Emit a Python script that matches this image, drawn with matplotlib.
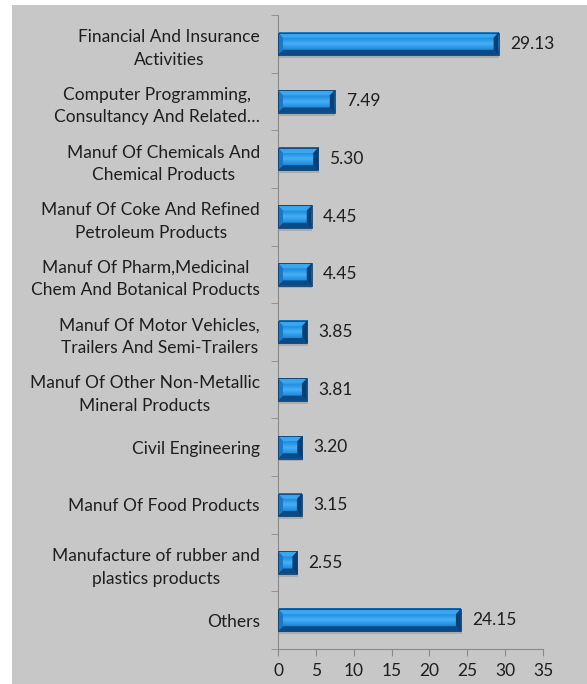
"""Horizontal bevelled bar chart of sector shares."""

import matplotlib

matplotlib.use("Agg")
import matplotlib.pyplot as plt  # noqa: E402
import numpy as np  # noqa: E402
from matplotlib.colors import LinearSegmentedColormap  # noqa: E402
from matplotlib.patches import Polygon, Rectangle  # noqa: E402

categories = [
    "Financial And Insurance\nActivities",
    "Computer Programming,\nConsultancy And Related\u2026",
    "Manuf Of Chemicals And\nChemical Products",
    "Manuf Of Coke And Refined\nPetroleum Products",
    "Manuf Of Pharm,Medicinal\nChem And Botanical Products",
    "Manuf Of Motor Vehicles,\nTrailers And Semi-Trailers",
    "Manuf Of Other Non-Metallic\nMineral Products",
    "Civil Engineering",
    "Manuf Of Food Products",
    "Manufacture of rubber and\nplastics products",
    "Others",
]
values = [29.13, 7.49, 5.30, 4.45, 4.45, 3.85, 3.81, 3.20, 3.15, 2.55, 24.15]
xticks = [0, 5, 10, 15, 20, 25, 30, 35]

plt.rcParams["font.family"] = ["Lato", "DejaVu Sans"]
BG = "#c7c7c7"
TXT = "#1e1e1e"
FS = 12.5

fig = plt.figure(figsize=(5.87, 6.84), dpi=100)
bg = fig.add_axes([12 / 587, 0, 1, 1 - 5 / 684], zorder=-10)
bg.set_facecolor(BG)
bg.set_axis_off()
bg.add_patch(Rectangle((0, 0), 1, 1, transform=bg.transAxes, facecolor=BG,
                       edgecolor="none"))
ax = fig.add_axes([278 / 587, 1 - 649 / 684, 265 / 587, 634 / 684])
ax.set_facecolor(BG)

n = len(values)
ypos = np.arange(n)[::-1]
h = 0.39
bx = 0.65   # horizontal bevel, data units
by = 0.09   # vertical bevel, category units

grad = LinearSegmentedColormap.from_list(
    "bar", ["#0b5aa3", "#1f8ce0", "#45b0f5", "#1f8ce0", "#0f5a9e"])
gimg = np.linspace(0, 1, 64).reshape(-1, 1)

for y, v in zip(ypos, values):
    y0, y1 = y - h / 2, y + h / 2
    # soft shadow
    ax.add_patch(Rectangle((0.1, y0 - 0.05), v, h, facecolor="#9a9a9a",
                           edgecolor="none", alpha=0.6, zorder=1))
    ax.imshow(gimg, cmap=grad, aspect="auto", extent=(0, v, y0, y1),
              origin="upper", zorder=2)
    e = min(bx, v / 3)
    ax.add_patch(Polygon([(0, y1), (v, y1), (v - e, y1 - by), (e, y1 - by)],
                         closed=True, facecolor="#3aa6ee", edgecolor="none", zorder=3))
    ax.add_patch(Polygon([(0, y0), (v, y0), (v - e, y0 + by), (e, y0 + by)],
                         closed=True, facecolor="#0b4a85", edgecolor="none", zorder=3))
    ax.add_patch(Polygon([(0, y0), (0, y1), (e, y1 - by), (e, y0 + by)],
                         closed=True, facecolor="#1a78c8", edgecolor="none", zorder=3))
    ax.add_patch(Polygon([(v, y0), (v, y1), (v - e, y1 - by), (v - e, y0 + by)],
                         closed=True, facecolor="#0a3d70", edgecolor="none", zorder=3))
    ax.add_patch(Rectangle((0, y0), v, h, facecolor="none", edgecolor="#0a3f72",
                           linewidth=0.6, zorder=4))
    ax.text(v + 1.5, y, f"{v:.2f}", va="center", ha="left", fontsize=FS,
            color=TXT)

ax.set_xlim(0, 35)
ax.set_ylim(-0.5, n - 0.5)
ax.set_xticks(xticks)
ax.set_xticklabels([str(t) for t in xticks], fontsize=FS, color=TXT)
ax.set_yticks(ypos)
ax.set_yticklabels(categories, fontsize=FS, color=TXT)
for lab in ax.get_yticklabels():
    lab.set_multialignment("center")
    lab.set_linespacing(1.5)
ax.set_yticks(np.arange(n + 1) - 0.5, minor=True)
ax.tick_params(axis="y", which="major", length=0, pad=13)
ax.tick_params(axis="y", which="minor", length=5, color="#8a8a8a")
ax.tick_params(axis="x", length=5, color="#8a8a8a", pad=5)

for side in ("top", "right"):
    ax.spines[side].set_visible(False)
for side in ("left", "bottom"):
    ax.spines[side].set_color("#8a8a8a")
    ax.spines[side].set_linewidth(0.8)

fig.savefig("out.png", dpi=100, facecolor="white")
plt.close(fig)
